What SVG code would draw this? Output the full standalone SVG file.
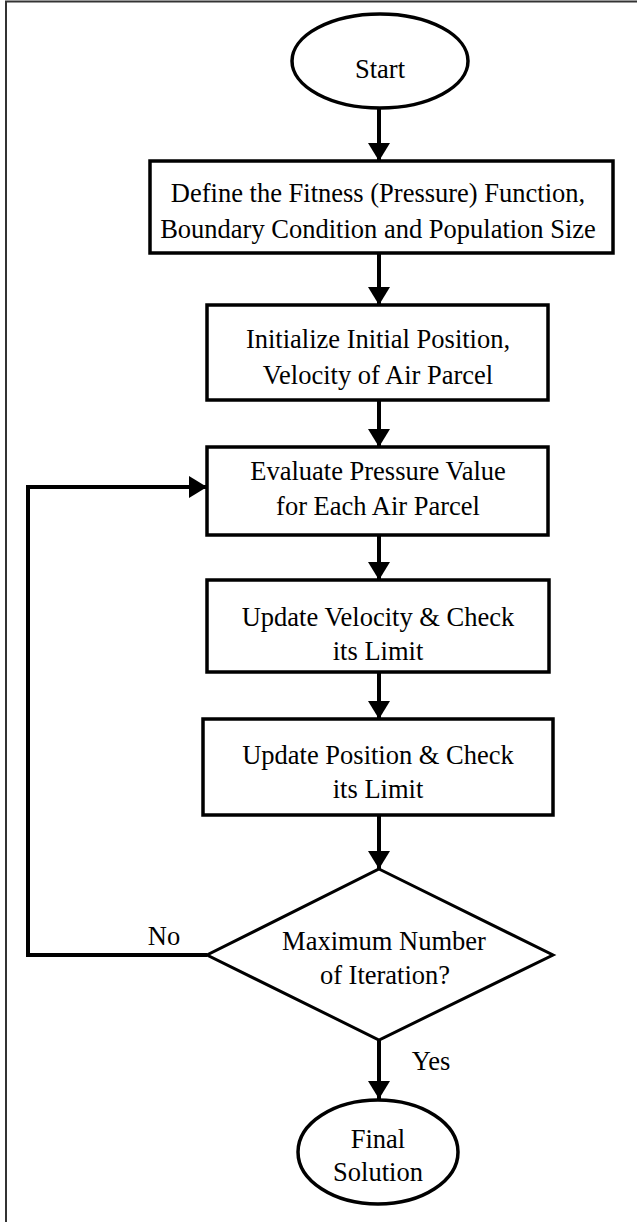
<svg xmlns="http://www.w3.org/2000/svg" width="637" height="1222" viewBox="0 0 637 1222">
  <style>
    .shape { fill: #fff; stroke: #000; stroke-width: 3.5; }
    .diamond { fill: #fff; stroke: #000; stroke-width: 3; stroke-linejoin: miter; }
    .label { font-family: "Liberation Serif", "Times New Roman", serif; font-size: 26.5px; fill: #000; text-anchor: middle; }
    .edge { fill: none; stroke: #000; stroke-width: 4; }
    .frame { stroke: #333; stroke-width: 2; fill: none; }
  </style>
  <defs>
    <!-- arrowhead: 18px long, 22px wide at stroke-width 4 -->
    <marker id="arrow" viewBox="0 0 9 11" refX="9" refY="5.5" markerWidth="4.5" markerHeight="5.5" markerUnits="strokeWidth" orient="auto">
      <path d="M0,0 L9,5.5 L0,11 Z" fill="#000"/>
    </marker>
  </defs>

  <rect width="637" height="1222" fill="#fff"/>
  <!-- page frame (left and top rules) -->
  <path class="frame" d="M6,1222 V1.5 H637"/>

  <!-- connectors -->
  <g id="connectors">
    <path class="edge" d="M379,108 V161" marker-end="url(#arrow)"/>
    <path class="edge" d="M379,253 V305" marker-end="url(#arrow)"/>
    <path class="edge" d="M379,400 V447" marker-end="url(#arrow)"/>
    <path class="edge" d="M379,535 V580" marker-end="url(#arrow)"/>
    <path class="edge" d="M379,672 V719" marker-end="url(#arrow)"/>
    <path class="edge" d="M379,815 V869" marker-end="url(#arrow)"/>
    <path class="edge" d="M379,1040 V1099" marker-end="url(#arrow)"/>
    <path class="edge" d="M207,955 H28 V487 H207" marker-end="url(#arrow)"/>
    <text class="label" x="164" y="945">No</text>
    <text class="label" x="431" y="1070">Yes</text>
  </g>

  <g id="start">
    <ellipse class="shape" cx="380" cy="61" rx="88" ry="47"/>
    <text class="label" x="380" y="78">Start</text>
  </g>

  <g id="define">
    <rect class="shape" x="150" y="161" width="463" height="92"/>
    <text class="label" x="378" y="202">Define the Fitness (Pressure) Function,</text>
    <text class="label" x="378" y="238">Boundary Condition and Population Size</text>
  </g>

  <g id="initialize">
    <rect class="shape" x="207" y="305" width="341" height="95"/>
    <text class="label" x="378" y="348">Initialize Initial Position,</text>
    <text class="label" x="378" y="384">Velocity of Air Parcel</text>
  </g>

  <g id="evaluate">
    <rect class="shape" x="207" y="447" width="341" height="88"/>
    <text class="label" x="378" y="480">Evaluate Pressure Value</text>
    <text class="label" x="378" y="515">for Each Air Parcel</text>
  </g>

  <g id="update-velocity">
    <rect class="shape" x="207" y="580" width="342" height="92"/>
    <text class="label" x="378" y="626">Update Velocity &amp; Check</text>
    <text class="label" x="378" y="660">its Limit</text>
  </g>

  <g id="update-position">
    <rect class="shape" x="203" y="719" width="350" height="96"/>
    <text class="label" x="378" y="764">Update Position &amp; Check</text>
    <text class="label" x="378" y="798">its Limit</text>
  </g>

  <g id="max-iteration">
    <polygon class="diamond" points="379,869 553,955 379,1040 207,955"/>
    <text class="label" x="384" y="950">Maximum Number</text>
    <text class="label" x="385" y="984">of Iteration?</text>
  </g>

  <g id="final">
    <ellipse class="shape" cx="378" cy="1152" rx="80" ry="52"/>
    <text class="label" x="378" y="1148">Final</text>
    <text class="label" x="378" y="1181">Solution</text>
  </g>
</svg>
